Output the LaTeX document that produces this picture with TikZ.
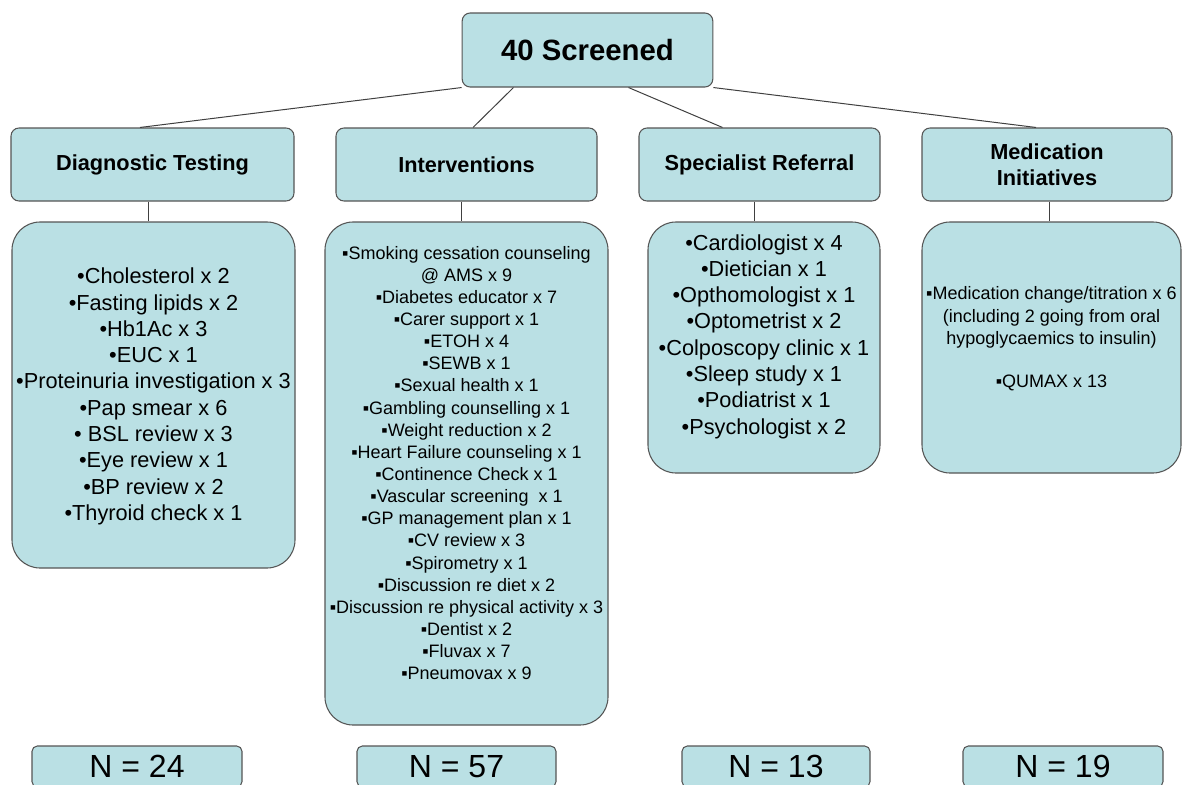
\documentclass[tikz,border=0pt]{standalone}
\usepackage{fontspec}
\setmainfont{Liberation Sans}
\usetikzlibrary{calc}
\definecolor{caixa}{RGB}{186,224,228}
\definecolor{borda}{RGB}{85,85,85}
\begin{document}
\begin{tikzpicture}[
  x=0.75pt, y=-0.75pt,
  base/.style={draw=borda, line width=0.8pt, fill=caixa, inner sep=0pt, anchor=center},
  topo/.style={base, rounded corners=6pt, minimum width=188pt, minimum height=55.5pt, font=\fontsize{22}{26}\selectfont\bfseries},
  cat/.style={base, rounded corners=6pt, minimum height=54.75pt, align=center, font=\fontsize{16.3}{19.5}\selectfont\bfseries},
  lista/.style={base, rounded corners=21pt},
  grande/.style={align=center, inner sep=0pt, font=\fontsize{16.3}{19.7}\selectfont},
  miudo/.style={align=center, inner sep=0pt, font=\fontsize{13.5}{16.6}\selectfont},
  total/.style={base, rounded corners=4pt, minimum height=30.75pt, font=\fontsize{24}{28}\selectfont},
  con/.style={draw=black!75, line width=0.75pt}
]
\def\u{0.75pt}
\clip (0,0) rectangle (1182,785);
% raiz
\node[topo] (raiz) at (587.5,50) {40 Screened};
% categorias
\node[cat, minimum width=283*\u] (diag) at (152.5,164.5) {Diagnostic Testing};
\node[cat, minimum width=261*\u] (interv) at (466.5,164.5) {Interventions};
\node[cat, minimum width=241*\u] (espec) at (759.5,164.5) {Specialist Referral};
\node[cat, minimum width=250*\u] (medic) at (1047,164.5) {Medication\\Initiatives};
% ligacoes da raiz
\draw[con] (raiz.south west) -- ($(diag.north)+(-12.5,0)$);
\draw[con] ($(raiz.south)+(-74,0)$) -- ($(interv.north)+(6.5,0)$);
\draw[con] ($(raiz.south)+(41,0)$) -- ($(espec.north)+(-37,0)$);
\draw[con] (raiz.south east) -- ($(medic.north)+(-11,0)$);
% caixas de lista
\node[lista, minimum width=283*\u, minimum height=346*\u] (dcx) at (153.5,395) {};
\node[lista, minimum width=283*\u, minimum height=503*\u] (icx) at (466.5,473.5) {};
\node[lista, minimum width=232*\u, minimum height=251*\u] (scx) at (764,347.5) {};
\node[lista, minimum width=259*\u, minimum height=251*\u] (mcx) at (1051.5,347.5) {};
% ligacoes verticais
\coordinate (dv) at ($(diag.south)+(-4.5,0)$);
\coordinate (iv) at ($(interv.south)+(-5.5,0)$);
\coordinate (sv) at ($(espec.south)+(-5.5,0)$);
\coordinate (mv) at ($(medic.south)+(2,0)$);
\draw[con] (dv) -- (dv |- dcx.north);
\draw[con] (iv) -- (iv |- icx.north);
\draw[con] (sv) -- (sv |- scx.north);
\draw[con] (mv) -- (mv |- mcx.north);
% textos das listas
\node[grande] (dtxt) at (153.5,396.5) {•Cholesterol x 2\\•Fasting lipids x 2\\•Hb1Ac x 3\\•EUC x 1\\•Proteinuria investigation x 3\\•Pap smear x 6\\• BSL review x 3\\•Eye review x 1\\•BP review x 2\\•Thyroid check x 1};
\node[miudo] (itxt) at (466.5,463) {▪Smoking cessation counseling\\@ AMS x 9\\▪Diabetes educator x 7\\▪Carer support x 1\\▪ETOH x 4\\▪SEWB x 1\\▪Sexual health x 1\\▪Gambling counselling x 1\\▪Weight reduction x 2\\▪Heart Failure counseling x 1\\▪Continence Check x 1\\▪Vascular screening~ x 1\\▪GP management plan x 1\\▪CV review x 3\\▪Spirometry x 1\\▪Discussion re diet x 2\\▪Discussion re physical activity x 3\\▪Dentist x 2\\▪Fluvax x 7\\▪Pneumovax x 9};
\node[grande] (stxt) at (764,336.5) {•Cardiologist x 4\\•Dietician x 1\\•Opthomologist x 1\\•Optometrist x 2\\•Colposcopy clinic x 1\\•Sleep study x 1\\•Podiatrist x 1\\•Psychologist x 2};
\node[miudo] (mtxt) at (1051.5,339) {▪Medication change/titration x 6\\(including 2 going from oral\\hypoglycaemics to insulin)\\[16.1pt]▪QUMAX x 13};
% totais
\foreach \nome/\x/\w/\n in {n1/137/210/24, n2/456.5/199/57, n3/776/188/13, n4/1063/200/19}
  \node[total, minimum width=\w*\u] (\nome) at (\x,766.5) {N = \n};
\end{tikzpicture}
\end{document}
